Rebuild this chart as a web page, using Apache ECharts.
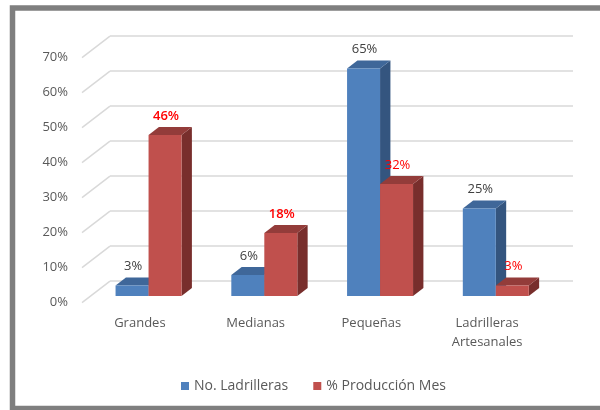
<!DOCTYPE html>
<html>
<head>
<meta charset="utf-8">
<script src="https://cdn.jsdelivr.net/npm/echarts@6/dist/echarts.min.js"></script>
<style>
  html, body { margin: 0; padding: 0; background: #ffffff; }
  #chart { width: 600px; height: 410px; }
</style>
</head>
<body>
<div id="chart"></div>
<script>
// Brick-kiln survey: share of kilns and share of monthly production by size
const categories = ['Grandes', 'Medianas', 'Pequeñas', 'Ladrilleras\nArtesanales'];
const noLadrilleras = [3, 6, 65, 25];
const produccionMes = [46, 18, 32, 3];
const yTicks = [0, 10, 20, 30, 40, 50, 60, 70];
const seriesNames = ['No. Ladrilleras', '% Producción Mes'];

// Pseudo-3D layout: the same plot rectangle is repeated at several depths
const FRONT_LEFT = 82, FRONT_BOTTOM = 302.7, PLOT_W = 463, PLOT_H = 245;
const FLOOR_DX = 28, FLOOR_DY = 21.5;   // full depth of the floor
const BAR_T = 0.31;                     // depth at which bar front faces sit
const BAR_DEPTH = 0.37;                 // bar thickness, fraction of floor depth
const BAR_W_RATIO = 0.285;              // bar width, fraction of category band
const FONT = '"Open Sans", "Noto Sans", sans-serif';
const TEXT_GREY = '#595959';

const palette = {
  blue: { front: '#4F81BD', top: '#3F6799', side: '#34557F' },
  red:  { front: '#C0504D', top: '#933C3A', side: '#782E2C' }
};

function gridAt(t) {
  return {
    left: FRONT_LEFT + FLOOR_DX * t,
    top: FRONT_BOTTOM - FLOOR_DY * t - PLOT_H,
    width: PLOT_W,
    height: PLOT_H,
    containLabel: false
  };
}

function valueAxis(idx, showLabels, showSplit) {
  return {
    type: 'value', gridIndex: idx, min: 0, max: 70, interval: 10,
    axisLine: { show: false }, axisTick: { show: false },
    axisLabel: {
      show: showLabels, formatter: '{value}%', margin: 14,
      color: TEXT_GREY, fontSize: 13, fontFamily: FONT
    },
    splitLine: { show: showSplit, lineStyle: { color: '#D9D9D9', width: 1.5 } }
  };
}

function categoryAxis(idx, showLabels) {
  return {
    type: 'category', gridIndex: idx, data: categories, boundaryGap: true,
    axisLine: { show: false }, axisTick: { show: false },
    axisLabel: {
      show: showLabels, interval: 0, margin: 11, lineHeight: 19,
      color: TEXT_GREY, fontSize: 13, fontFamily: FONT
    },
    splitLine: { show: false }
  };
}

// Renders one 3D bar (front, top and side faces) plus its value label
function barRenderer(leftOfCenter, colors, labelColor, boldIdx) {
  return function (params, api) {
    const i = api.value(0);
    const v = api.value(1);
    const top = api.coord([i, v]);
    const base = api.coord([i, 0]);
    const w = api.size([1, 0])[0] * BAR_W_RATIO;
    const x0 = leftOfCenter ? top[0] - w : top[0];
    const x1 = x0 + w;
    const yT = top[1], yB = base[1];
    const dx = FLOOR_DX * BAR_DEPTH, dy = FLOOR_DY * BAR_DEPTH;
    return {
      type: 'group',
      children: [
        { type: 'polygon',
          shape: { points: [[x1, yB], [x1 + dx, yB - dy], [x1 + dx, yT - dy], [x1, yT]] },
          style: { fill: colors.side } },
        { type: 'polygon',
          shape: { points: [[x0, yT], [x0 + dx, yT - dy], [x1 + dx, yT - dy], [x1, yT]] },
          style: { fill: colors.top } },
        { type: 'rect',
          shape: { x: x0, y: yT, width: w, height: yB - yT },
          style: { fill: colors.front } },
        { type: 'text', z2: 10,
          x: (x0 + x1) / 2 + 1, y: yT - dy - 11,
          style: {
            text: v + '%', fill: labelColor, fontSize: 13, fontFamily: FONT,
            fontWeight: boldIdx.indexOf(params.dataIndex) >= 0 ? 600 : 'normal',
            align: 'center', verticalAlign: 'middle'
          } }
      ]
    };
  };
}

// Side-wall edges joining the front tick positions to the back wall
function depthEdgeRenderer(params, api) {
  const p = api.coord([0, api.value(1)]);
  const x = params.coordSys.x;
  return {
    type: 'line',
    shape: { x1: x, y1: p[1], x2: x + FLOOR_DX, y2: p[1] - FLOOR_DY },
    style: { stroke: '#D9D9D9', lineWidth: 1.5 }
  };
}

const chart = echarts.init(document.getElementById('chart'), null, { renderer: 'canvas' });

chart.setOption({
  backgroundColor: '#ffffff',
  animation: false,
  grid: [gridAt(1), gridAt(0), gridAt(BAR_T)],
  xAxis: [categoryAxis(0, false), categoryAxis(1, true), categoryAxis(2, false)],
  yAxis: [valueAxis(0, false, true), valueAxis(1, true, false), valueAxis(2, false, false)],
  legend: {
    data: seriesNames,
    left: 176, top: 374,
    icon: 'rect', itemWidth: 8, itemHeight: 8, itemGap: 25,
    textStyle: { color: TEXT_GREY, fontSize: 14, fontFamily: FONT }
  },
  graphic: [{
    type: 'rect', silent: true, z: 100,
    shape: { x: 12.5, y: 8, width: 620, height: 400.5 },
    style: { fill: 'none', stroke: '#7F7F7F', lineWidth: 5.5 }
  }],
  series: [
    {
      type: 'custom', name: 'depth-edges', xAxisIndex: 1, yAxisIndex: 1,
      silent: true, z: 1,
      data: yTicks.map(function (v) { return [0, v]; }),
      encode: { x: 0, y: 1 },
      renderItem: depthEdgeRenderer
    },
    {
      type: 'custom', name: seriesNames[0], xAxisIndex: 2, yAxisIndex: 2, z: 3,
      itemStyle: { color: palette.blue.front },
      data: noLadrilleras.map(function (v, i) { return [i, v]; }),
      encode: { x: 0, y: 1 },
      renderItem: barRenderer(true, palette.blue, '#404040', [])
    },
    {
      type: 'custom', name: seriesNames[1], xAxisIndex: 2, yAxisIndex: 2, z: 4,
      itemStyle: { color: palette.red.front },
      data: produccionMes.map(function (v, i) { return [i, v]; }),
      encode: { x: 0, y: 1 },
      renderItem: barRenderer(false, palette.red, '#FF0000', [0, 1])
    }
  ]
});
</script>
</body>
</html>
